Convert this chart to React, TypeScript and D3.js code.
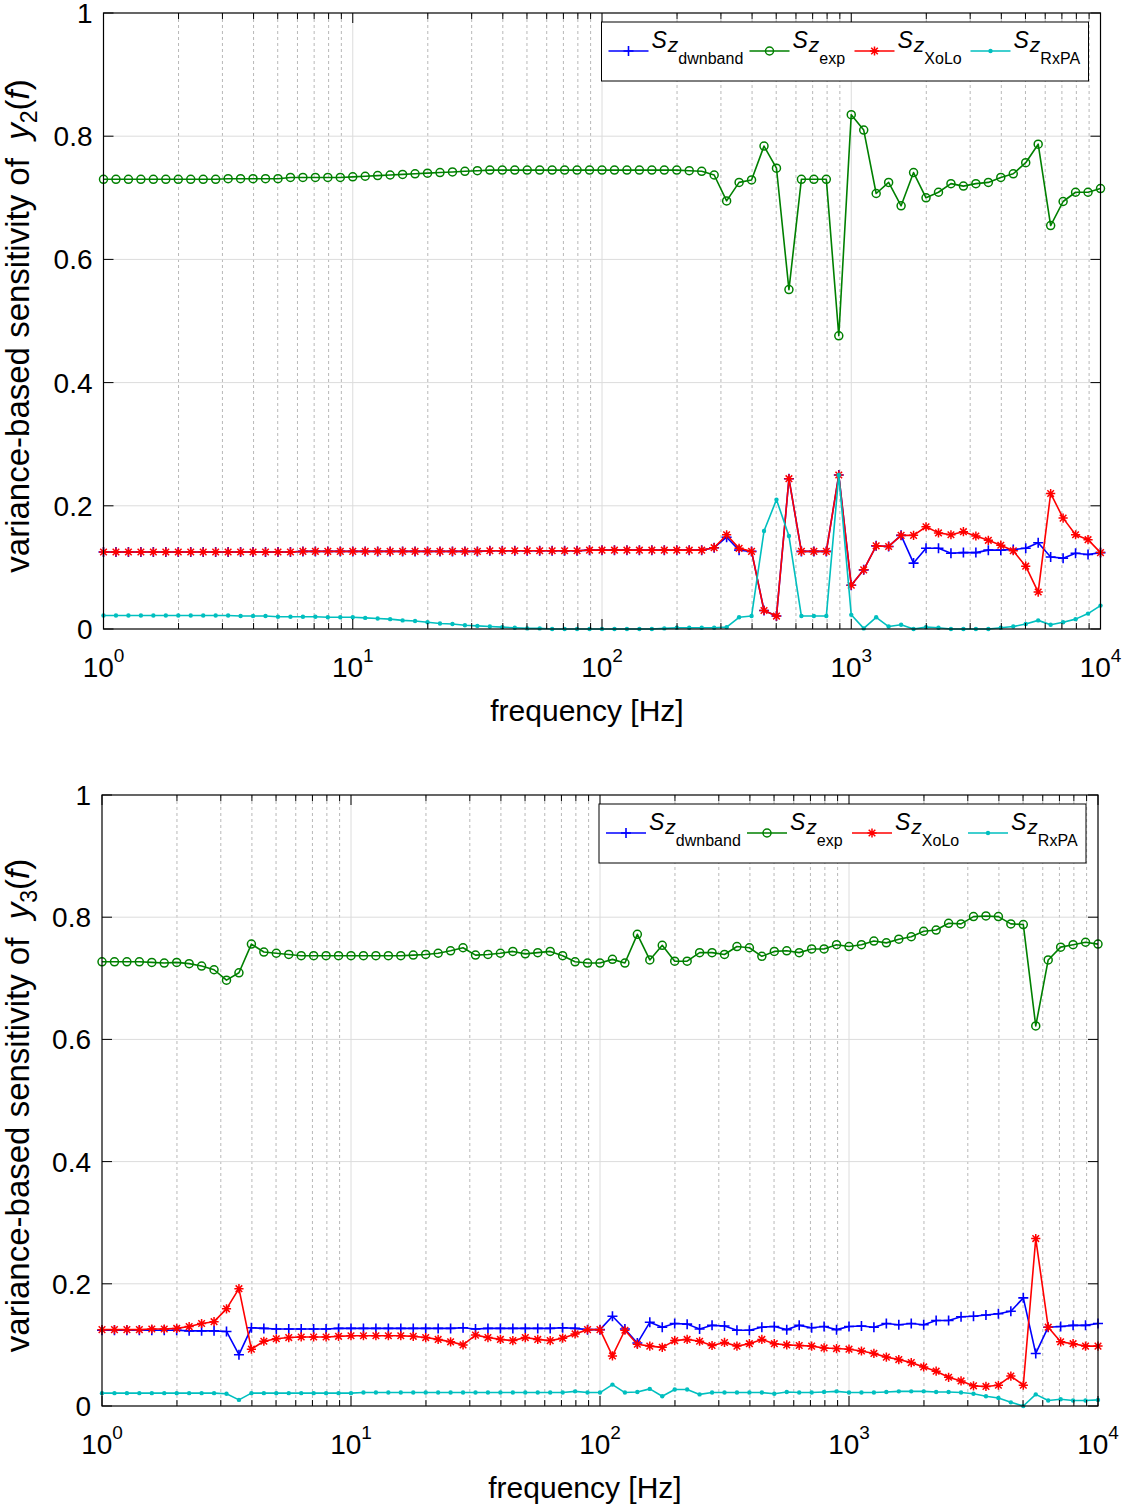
import React from 'react';
import * as d3 from 'd3';

// frequency grid: 20 log-spaced samples per decade, 1 Hz .. 10 kHz
const FREQ = d3.range(81).map(i => Math.pow(10, i / 20));

// ---- y2(f) ----
const DWN_Y2 = [
  .125, .125, .125, .125, .125, .125, .125, .125, .125, .125,
  .125, .125, .125, .125, .125, .125, .126, .126, .126, .126,
  .126, .126, .126, .126, .126, .126, .126, .126, .126, .126,
  .126, .127, .127, .127, .127, .127, .127, .127, .127, .128,
  .128, .128, .128, .128, .128, .128, .128, .128, .128, .132,
  .149, .128, .126, .030, .021, .244, .126, .126, .126, .250,
  .071, .096, .135, .134, .152, .107, .131, .131, .123, .124,
  .124, .128, .128, .129, .131, .140, .117, .115, .123, .121,
  .124,
];
const EXP_Y2 = [
  .730, .730, .730, .730, .730, .730, .730, .730, .730, .730,
  .731, .731, .731, .731, .731, .733, .733, .733, .733, .733,
  .734, .735, .736, .737, .738, .739, .740, .741, .742, .743,
  .744, .745, .745, .745, .745, .745, .745, .745, .745, .745,
  .745, .745, .745, .745, .745, .745, .745, .744, .743, .737,
  .695, .725, .729, .784, .748, .551, .730, .730, .730, .476,
  .835, .810, .707, .725, .687, .741, .700, .709, .723, .719,
  .723, .725, .733, .739, .757, .787, .655, .694, .709, .709,
  .715,
];
const XOLO_Y2 = [
  .125, .125, .125, .125, .125, .125, .125, .125, .125, .125,
  .125, .125, .125, .125, .125, .125, .126, .126, .126, .126,
  .126, .126, .126, .126, .126, .126, .126, .126, .126, .126,
  .126, .127, .127, .127, .127, .127, .127, .127, .127, .128,
  .128, .128, .128, .128, .128, .128, .128, .128, .128, .132,
  .153, .131, .126, .030, .021, .244, .126, .126, .126, .250,
  .071, .096, .135, .134, .152, .152, .166, .156, .153, .158,
  .151, .144, .136, .127, .102, .060, .220, .180, .153, .145,
  .124,
];
const RXPA_Y2 = [
  .022, .022, .022, .022, .022, .022, .022, .022, .022, .022,
  .022, .021, .021, .021, .020, .020, .020, .020, .019, .019,
  .019, .018, .017, .016, .014, .013, .011, .009, .008, .006,
  .005, .004, .003, .002, .001, .001, 0, 0, 0, 0,
  0, 0, 0, 0, 0, .001, .002, .002, .002, .002,
  .003, .019, .021, .159, .210, .151, .021, .021, .021, .250,
  .023, .001, .019, .004, .007, 0, .003, .002, 0, 0,
  0, 0, .002, .004, .008, .014, .007, .011, .016, .025,
  .038,
];

// ---- y3(f) ----
const DWN_Y3 = [
  .124, .124, .124, .124, .124, .124, .124, .123, .123, .123,
  .122, .084, .128, .127, .126, .126, .126, .126, .126, .127,
  .127, .127, .127, .127, .127, .127, .127, .127, .127, .128,
  .126, .127, .127, .127, .127, .127, .127, .128, .127, .125,
  .125, .147, .126, .103, .137, .129, .135, .134, .126, .132,
  .131, .124, .124, .129, .130, .125, .132, .128, .130, .125,
  .130, .131, .129, .135, .133, .135, .133, .140, .140, .146,
  .147, .149, .151, .155, .177, .086, .129, .130, .132, .132,
  .135,
];
const EXP_Y3 = [
  .727, .727, .727, .727, .726, .725, .726, .724, .720, .714,
  .697, .709, .756, .743, .741, .739, .737, .737, .737, .737,
  .737, .737, .737, .737, .737, .738, .739, .741, .745, .750,
  .738, .739, .741, .744, .740, .742, .744, .737, .727, .725,
  .725, .731, .725, .772, .730, .754, .728, .728, .742, .742,
  .739, .752, .750, .736, .744, .745, .742, .748, .748, .755,
  .752, .755, .761, .758, .764, .768, .777, .779, .790, .789,
  .801, .802, .801, .789, .788, .622, .730, .751, .755, .759,
  .756,
];
const XOLO_Y3 = [
  .125, .125, .125, .125, .126, .126, .127, .130, .135, .138,
  .159, .192, .093, .106, .110, .112, .113, .113, .113, .114,
  .115, .115, .115, .115, .115, .114, .112, .109, .105, .100,
  .116, .112, .109, .107, .112, .109, .107, .111, .118, .125,
  .125, .082, .124, .101, .098, .096, .107, .109, .106, .099,
  .104, .098, .102, .109, .102, .100, .099, .098, .095, .094,
  .093, .090, .086, .080, .076, .071, .064, .057, .047, .041,
  .033, .032, .034, .049, .034, .274, .129, .105, .102, .098,
  .098,
];
const RXPA_Y3 = [
  .021, .021, .021, .021, .021, .021, .021, .021, .021, .021,
  .020, .010, .021, .021, .021, .021, .021, .021, .021, .021,
  .021, .022, .022, .022, .022, .022, .022, .022, .022, .022,
  .022, .022, .022, .022, .022, .022, .022, .022, .024, .022,
  .022, .035, .022, .023, .028, .016, .027, .027, .019, .022,
  .022, .022, .022, .022, .020, .023, .022, .022, .023, .024,
  .022, .022, .022, .023, .024, .024, .024, .023, .023, .022,
  .020, .016, .013, .006, .000, .019, .009, .011, .009, .009,
  .010,
];

const Y_TICKS = [0, 0.2, 0.4, 0.6, 0.8, 1];
const DECADES = [0, 1, 2, 3, 4];
const LEGEND_SUBS = ['dwnband', 'exp', 'XoLo', 'RxPA'];

const FONT = '"Liberation Sans", Arial, Helvetica, sans-serif';
const COLORS = ['#0000ff', '#008000', '#ff0000', '#00bfbf'];
const MARKERS = ['plus', 'circle', 'star', 'dot'];

function Marker({ kind, cx, cy, color }) {
  if (kind === 'plus') {
    return <path d={`M${cx - 5},${cy}H${cx + 5}M${cx},${cy - 5}V${cy + 5}`} stroke={color} strokeWidth={1.6} fill="none" />;
  }
  if (kind === 'circle') {
    return <circle cx={cx} cy={cy} r={4} stroke={color} strokeWidth={1.5} fill="none" />;
  }
  if (kind === 'star') {
    const a = 4.6, b = 3.3;
    return (
      <path
        d={`M${cx - a},${cy}H${cx + a}M${cx},${cy - a}V${cy + a}M${cx - b},${cy - b}L${cx + b},${cy + b}M${cx - b},${cy + b}L${cx + b},${cy - b}`}
        stroke={color} strokeWidth={1.5} fill="none"
      />
    );
  }
  return <circle cx={cx} cy={cy} r={2.2} fill={color} />;
}

function Panel({ left, right, top, bottom, series, idx }) {
  const x = d3.scaleLog().domain([1, 1e4]).range([left, right]);
  const y = d3.scaleLinear().domain([0, 1]).range([bottom, top]);
  const minors = DECADES.slice(0, 4).flatMap(k => d3.range(2, 10).map(m => m * Math.pow(10, k)));
  const line = d3.line<number>().x((_, i) => x(FREQ[i])).y(d => y(d));

  const legLeft = right - 499;
  const legTop = top + 9;
  const legW = 487, legH = 59;
  const lineStarts = [7, 148, 253, 369];

  return (
    <g fontFamily={FONT}>
      {/* grid */}
      {minors.map(m => (
        <line key={'mg' + m} x1={x(m)} x2={x(m)} y1={top} y2={bottom} stroke="#b8b8b8" strokeDasharray="3,3" />
      ))}
      {DECADES.slice(1, 4).map(k => (
        <line key={'Mg' + k} x1={x(Math.pow(10, k))} x2={x(Math.pow(10, k))} y1={top} y2={bottom} stroke="#dcdcdc" />
      ))}
      {Y_TICKS.slice(1, 5).map(t => (
        <line key={'yg' + t} x1={left} x2={right} y1={y(t)} y2={y(t)} stroke="#dcdcdc" />
      ))}

      {/* series */}
      {series.map((s, si) => (
        <g key={'s' + si}>
          <path d={line(s)} fill="none" stroke={COLORS[si]} strokeWidth={1.6} strokeLinejoin="round" />
          {s.map((v, i) => (
            <Marker key={i} kind={MARKERS[si]} cx={x(FREQ[i])} cy={y(v)} color={COLORS[si]} />
          ))}
        </g>
      ))}

      {/* ticks */}
      {minors.map(m => (
        <g key={'mt' + m}>
          <line x1={x(m)} x2={x(m)} y1={bottom} y2={bottom - 6} stroke="#000" />
          <line x1={x(m)} x2={x(m)} y1={top} y2={top + 6} stroke="#000" />
        </g>
      ))}
      {DECADES.map(k => (
        <g key={'Mt' + k}>
          <line x1={x(Math.pow(10, k))} x2={x(Math.pow(10, k))} y1={bottom} y2={bottom - 10} stroke="#000" />
          <line x1={x(Math.pow(10, k))} x2={x(Math.pow(10, k))} y1={top} y2={top + 10} stroke="#000" />
          <text x={x(Math.pow(10, k))} y={bottom + 48} textAnchor="middle" fontSize={28}>
            10<tspan fontSize={19} dy={-15}>{k}</tspan>
          </text>
        </g>
      ))}
      {Y_TICKS.map(t => (
        <g key={'yt' + t}>
          <line x1={left} x2={left + 10} y1={y(t)} y2={y(t)} stroke="#000" />
          <line x1={right} x2={right - 10} y1={y(t)} y2={y(t)} stroke="#000" />
          <text x={left - 11} y={y(t) + 10} textAnchor="end" fontSize={28}>{String(t)}</text>
        </g>
      ))}
      <rect x={left} y={top} width={right - left} height={bottom - top} fill="none" stroke="#000" strokeWidth={1.2} />

      {/* labels */}
      <text x={(left + right) / 2 - 15} y={bottom + 92} textAnchor="middle" fontSize={30}>frequency [Hz]</text>
      <text transform={`translate(29,${(top + bottom) / 2 + 5}) rotate(-90)`} textAnchor="middle" fontSize={33}>
        variance-based sensitivity of{'\u00a0 '}
        <tspan fontStyle="italic">y</tspan>
        <tspan fontSize={23} dy={8}>{idx}</tspan>
        <tspan dy={-8}>(</tspan>
        <tspan fontStyle="italic">f</tspan>
        <tspan>)</tspan>
      </text>

      {/* legend */}
      <rect x={legLeft} y={legTop} width={legW} height={legH} fill="#fff" stroke="#000" />
      {LEGEND_SUBS.map((sub, li) => {
        const lx = legLeft + lineStarts[li];
        const ly = legTop + 29;
        return (
          <g key={'lg' + li}>
            <line x1={lx} x2={lx + 40} y1={ly} y2={ly} stroke={COLORS[li]} strokeWidth={1.6} />
            <Marker kind={MARKERS[li]} cx={lx + 20} cy={ly} color={COLORS[li]} />
            <text x={lx + 43} y={legTop + 26} fontSize={23}>
              <tspan fontStyle="italic">S</tspan>
              <tspan fontStyle="italic" fontSize={21} dx={1} dy={4}>z</tspan>
              <tspan fontSize={16} dy={12}>{sub}</tspan>
            </text>
          </g>
        );
      })}
    </g>
  );
}

export default function App() {
  return (
    <svg
      width={1124}
      height={1504}
      style={{ position: 'absolute', left: 0, top: 0, background: '#fff' }}
    >
      <rect width={1124} height={1504} fill="#fff" />
      <Panel left={103.5} right={1100.5} top={13} bottom={629} idx={2}
        series={[DWN_Y2, EXP_Y2, XOLO_Y2, RXPA_Y2]} />
      <Panel left={102} right={1098} top={795} bottom={1406} idx={3}
        series={[DWN_Y3, EXP_Y3, XOLO_Y3, RXPA_Y3]} />
    </svg>
  );
}
